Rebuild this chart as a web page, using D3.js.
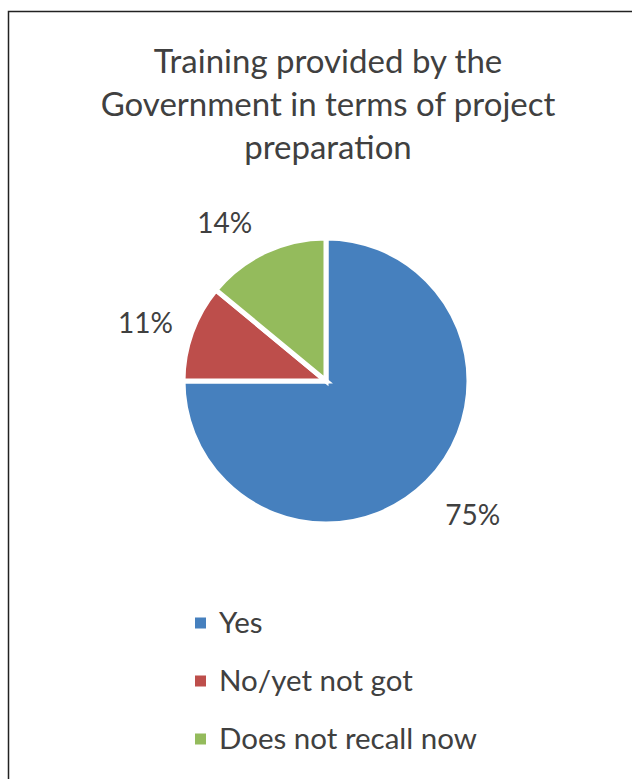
<!DOCTYPE html>
<html>
<head>
<meta charset="utf-8">
<script src="https://cdn.jsdelivr.net/npm/d3@7"></script>
<style>
  html, body { margin: 0; padding: 0; background: #ffffff; }
  svg { display: block; }
  text { font-family: Lato, "Open Sans", sans-serif; fill: #404040; }
</style>
</head>
<body>
<svg id="chart" width="632" height="779"></svg>
<script>
// Survey answers: share of respondents (%)
const categories = ["Yes", "No/yet not got", "Does not recall now"];
const shares = [75, 11, 14];
const colors = ["#4680BE", "#BD4E4B", "#94BB5C"];
const titleLines = ["Training provided by the", "Government in terms of project", "preparation"];

const cx = 326, cy = 381, radius = 143;
const labelRadius = 173;
const labelFont = 28;
// Fine placement tweaks for the percentage labels (pixels)
const labelNudge = { "Yes": [5, 4], "No/yet not got": [8, 4], "Does not recall now": [-16, 8] };

const svg = d3.select("#chart");

// Chart-area frame (runs off the right and bottom edges)
svg.append("rect")
  .attr("x", 8.5).attr("y", 11.5)
  .attr("width", 700).attr("height", 900)
  .attr("fill", "none")
  .attr("stroke", "#222")
  .attr("stroke-width", 1.5);

// Title
svg.append("g")
  .selectAll("text")
  .data(titleLines)
  .join("text")
  .attr("x", 328)
  .attr("y", (d, i) => 73 + i * 43)
  .attr("text-anchor", "middle")
  .attr("font-size", 33)
  .text(d => d);

const color = d3.scaleOrdinal().domain(categories).range(colors);
const data = categories.map((c, i) => ({ category: c, value: shares[i] }));

const pie = d3.pie()
  .value(d => d.value)
  .sort(null)
  .startAngle(0)
  .endAngle(2 * Math.PI);

const arcs = pie(data);
const arc = d3.arc().innerRadius(0).outerRadius(radius);

const g = svg.append("g").attr("transform", `translate(${cx},${cy})`);

g.selectAll("path")
  .data(arcs)
  .join("path")
  .attr("d", arc)
  .attr("fill", d => color(d.data.category))
  .attr("stroke", "#ffffff")
  .attr("stroke-width", 5)
  .attr("stroke-linejoin", "miter");

// Percentage labels placed just outside each slice
const fmt = d => d3.format(".0f")(d) + "%";
const labels = g.selectAll("text.pct")
  .data(arcs)
  .join("text")
  .attr("class", "pct")
  .attr("font-size", labelFont)
  .attr("text-anchor", "middle")
  .text(d => fmt(d.data.value));

labels.each(function(d) {
  const a = (d.startAngle + d.endAngle) / 2;
  const w = this.getComputedTextLength();
  const capH = labelFont * 0.72;
  const nudge = labelNudge[d.data.category] || [0, 0];
  const px = Math.sin(a) * (labelRadius + w / 2) + nudge[0];
  const py = -Math.cos(a) * (labelRadius + capH / 2) + capH / 2 + nudge[1];
  d3.select(this).attr("x", px).attr("y", py);
});

// Legend
const legend = svg.append("g").attr("transform", "translate(195,623)");
const item = legend.selectAll("g")
  .data(categories)
  .join("g")
  .attr("transform", (d, i) => `translate(0,${i * 58})`);

item.append("rect")
  .attr("x", 0).attr("y", -5.5)
  .attr("width", 11).attr("height", 11)
  .attr("fill", d => color(d));

item.append("text")
  .attr("x", 24)
  .attr("y", 9.5)
  .attr("font-size", 29.5)
  .text(d => d);
</script>
</body>
</html>
